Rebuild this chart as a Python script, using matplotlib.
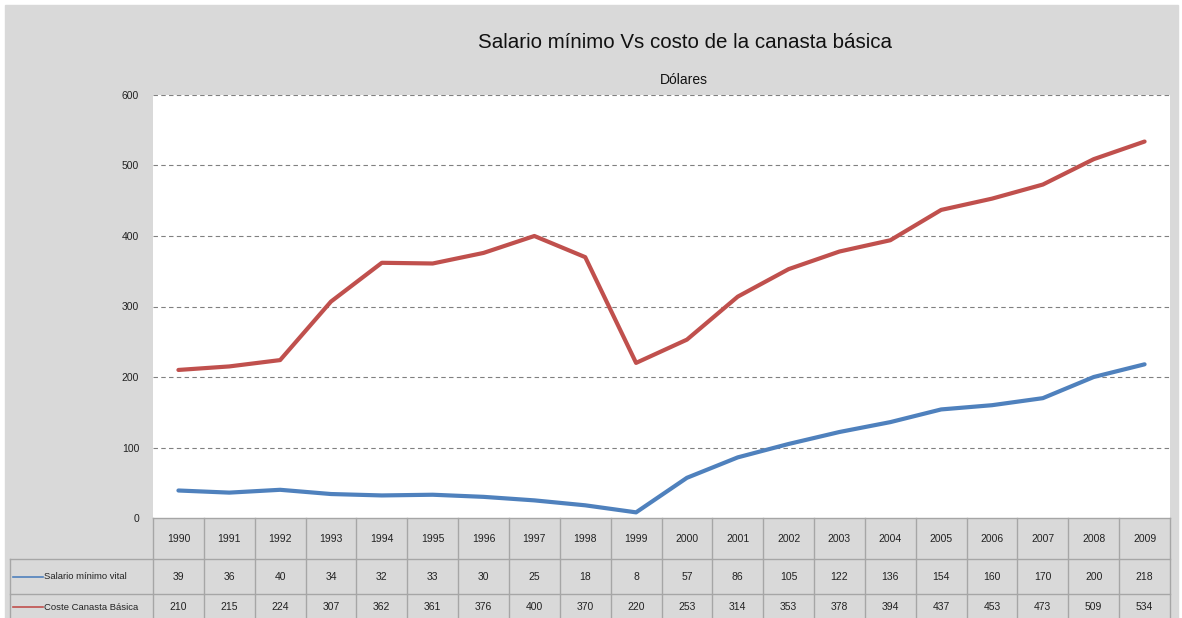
import matplotlib.pyplot as plt
import matplotlib.transforms as mtransforms
from matplotlib.patches import Rectangle

# datos de la serie (dólares)
years = [1990, 1991, 1992, 1993, 1994, 1995, 1996, 1997, 1998, 1999,
         2000, 2001, 2002, 2003, 2004, 2005, 2006, 2007, 2008, 2009]
salario = [39, 36, 40, 34, 32, 33, 30, 25, 18, 8,
           57, 86, 105, 122, 136, 154, 160, 170, 200, 218]
canasta = [210, 215, 224, 307, 362, 361, 376, 400, 370, 220,
           253, 314, 353, 378, 394, 437, 453, 473, 509, 534]
series_names = ["Salario mínimo vital", "Coste Canasta Básica"]
series_colors = ["#4F81BD", "#C0504D"]
yticks = [0, 100, 200, 300, 400, 500, 600]

W, H = 1182, 618
BG = "#d9d9d9"
GRID = "#a6a6a6"
FONT = ["Liberation Sans", "DejaVu Sans"]

fig = plt.figure(figsize=(W / 100, H / 100), dpi=100, facecolor="white")
fig.patches.append(Rectangle((5 / W, 0), (1178 - 5) / W, (H - 5) / H,
                             transform=fig.transFigure, color=BG, zorder=-5))

ax_l, ax_r, ax_top, ax_bot = 153, 1170, 95, 518
ax = fig.add_axes([ax_l / W, (H - ax_bot) / H, (ax_r - ax_l) / W, (ax_bot - ax_top) / H])
ax.set_facecolor("white")
for s in ax.spines.values():
    s.set_visible(False)

x = list(range(len(years)))
ax.plot(x, canasta, color=series_colors[1], lw=3.0, solid_capstyle="round", zorder=3)
ax.plot(x, salario, color=series_colors[0], lw=3.0, solid_capstyle="round", zorder=3)

ax.set_xlim(-0.5, len(years) - 0.5)
ax.set_ylim(0, 600)
ax.set_xticks([])
ax.set_yticks(yticks)
ax.set_yticklabels([str(v) for v in yticks], family=FONT, fontsize=7.5, color="#222222")
ax.tick_params(axis="y", length=0, pad=10)
for v in yticks[1:]:
    ax.axhline(v, color="#808080", lw=0.8, ls=(0, (4, 3)), zorder=1)

# títulos
fig.text(685 / W, 1 - 43 / H, "Salario mínimo Vs costo de la canasta básica",
         ha="center", va="center", fontsize=14.8, family=FONT, color="#111111")
fig.text(684 / W, 1 - 80 / H, "Dólares", ha="center", va="center", fontsize=10,
         family=FONT, color="#111111")

# tabla de datos bajo el gráfico
axh = ax_bot - ax_top
row_edges = [0, -41 / axh, -76 / axh, -111 / axh]
tr = mtransforms.blended_transform_factory(ax.transData, ax.transAxes)
leg_left = (10 - ax_l) / (ax_r - ax_l)

line_kw = dict(color=GRID, lw=1, clip_on=False, zorder=4)
ax.plot([-0.5, len(years) - 0.5], [0, 0], transform=tr, **line_kw)
for y in row_edges[1:]:
    ax.plot([leg_left, 1], [y, y], transform=ax.transAxes, **line_kw)
ax.plot([leg_left, leg_left], [row_edges[1], row_edges[3]], transform=ax.transAxes, **line_kw)
for i in range(len(years) + 1):
    ax.plot([i - 0.5, i - 0.5], [0, row_edges[3]], transform=tr, **line_kw)

txt_kw = dict(ha="center", va="center", fontsize=7.5, family=FONT, color="#222222",
              transform=tr, clip_on=False)
for i, yr in enumerate(years):
    ax.text(i, (row_edges[0] + row_edges[1]) / 2, str(yr), **txt_kw)
    ax.text(i, (row_edges[1] + row_edges[2]) / 2, str(salario[i]), **txt_kw)
    ax.text(i, (row_edges[2] + row_edges[3]) / 2 + 0.01, str(canasta[i]), **txt_kw)

for k, (name, col) in enumerate(zip(series_names, series_colors)):
    yc = (row_edges[k + 1] + row_edges[k + 2]) / 2 + (0.01 if k == 1 else 0)
    x0 = (13 - ax_l) / (ax_r - ax_l)
    x1 = (43 - ax_l) / (ax_r - ax_l)
    ax.plot([x0, x1], [yc, yc], color=col, lw=1.2, transform=ax.transAxes, clip_on=False)
    ax.text(x1 + 0.001, yc, name, ha="left", va="center", fontsize=6.8, family=FONT,
            color="#222222", transform=ax.transAxes, clip_on=False)

fig.savefig("out.png", dpi=100, facecolor=fig.get_facecolor())
